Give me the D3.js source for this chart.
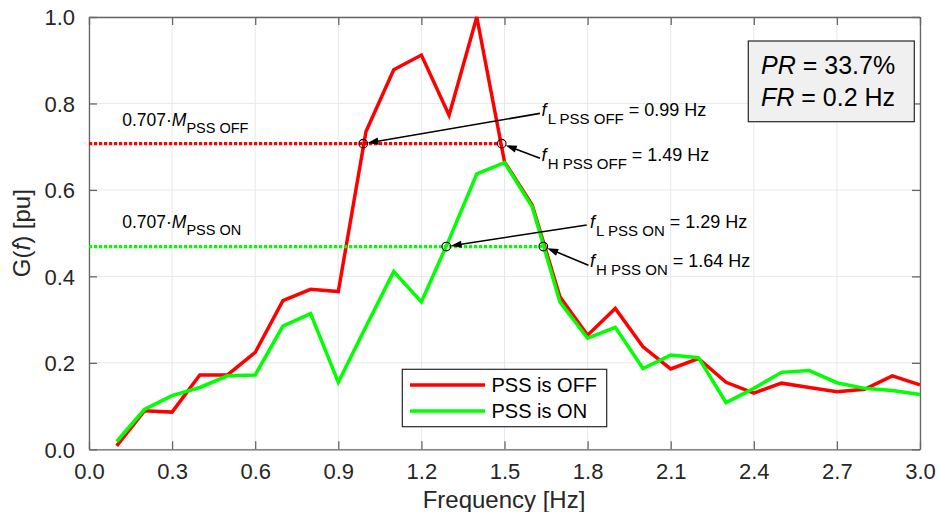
<!DOCTYPE html>
<html><head><meta charset="utf-8">
<script src="https://cdn.jsdelivr.net/npm/d3@7"></script>
<style>
body{margin:0;background:#fff;}
text{font-family:"Liberation Sans",Arial,sans-serif;}
</style></head>
<body><svg id="c" width="939" height="512"></svg>
<script>
const freq = [0.1,0.2,0.3,0.4,0.5,0.6,0.7,0.8,0.9,1.0,1.1,1.2,1.3,1.4,1.5,1.6,1.7,1.8,1.9,2.0,2.1,2.2,2.3,2.4,2.5,2.6,2.7,2.8,2.9,3.0];
const pssOff = [0.008,0.089,0.086,0.172,0.172,0.224,0.344,0.370,0.365,0.735,0.878,0.912,0.773,1.000,0.665,0.565,0.353,0.264,0.326,0.237,0.186,0.210,0.155,0.130,0.153,0.143,0.133,0.139,0.170,0.149];
const pssOn  = [0.018,0.092,0.124,0.143,0.170,0.172,0.285,0.314,0.155,0.284,0.411,0.341,0.485,0.637,0.663,0.561,0.341,0.257,0.282,0.187,0.218,0.212,0.108,0.141,0.178,0.182,0.154,0.141,0.136,0.127];
const xTicks = [0.0,0.3,0.6,0.9,1.2,1.5,1.8,2.1,2.4,2.7,3.0];
const yTicks = [0.0,0.2,0.4,0.6,0.8,1.0];
const seriesNames = ["PSS is OFF","PSS is ON"];
const seriesColors = ["#ff0000","#00ff00"];
const levelOff = 0.707, levelOn = 0.469;
const fLOff = 0.99, fHOff = 1.49, fLOn = 1.29, fHOn = 1.64;
const infoLines = [["PR"," = 33.7%"],["FR"," = 0.2 Hz"]];

const svg = d3.select("#c");
const L=89, R=920, T=17, B=449.3;
const x = d3.scaleLinear().domain([0,3]).range([L,R]);
const y = d3.scaleLinear().domain([0,1]).range([B,T]);
const axisCol = "#262626";

// grid
const g = svg.append("g");
g.selectAll(".gx").data(xTicks).join("line").attr("x1",d=>x(d)).attr("x2",d=>x(d)).attr("y1",T).attr("y2",B).attr("stroke","#e8e8e8").attr("stroke-width",1);
g.selectAll(".gy").data(yTicks).join("line").attr("y1",d=>y(d)).attr("y2",d=>y(d)).attr("x1",L).attr("x2",R).attr("stroke","#e8e8e8").attr("stroke-width",1);

// axes
const fmt = d3.format(".1f");
const ax = svg.append("g").attr("transform",`translate(0,${B})`).call(d3.axisBottom(x).tickValues(xTicks).tickFormat(fmt).tickSizeInner(-8).tickSizeOuter(0).tickPadding(14));
const axT = svg.append("g").attr("transform",`translate(0,${T})`).call(d3.axisTop(x).tickValues(xTicks).tickFormat("").tickSizeInner(-8).tickSizeOuter(0));
const ay = svg.append("g").attr("transform",`translate(${L},0)`).call(d3.axisLeft(y).tickValues(yTicks).tickFormat(fmt).tickSizeInner(-8).tickSizeOuter(0).tickPadding(14));
const ayR = svg.append("g").attr("transform",`translate(${R},0)`).call(d3.axisRight(y).tickValues(yTicks).tickFormat("").tickSizeInner(-8).tickSizeOuter(0));
[ax,axT,ay,ayR].forEach(a=>{
  a.selectAll("path").attr("stroke","#666").attr("stroke-width",1.3);
  a.selectAll("line").attr("stroke","#666").attr("stroke-width",1.3);
  a.selectAll("text").attr("fill",axisCol).style("font-size","22px").style("font-family","Liberation Sans, Arial, sans-serif");
});
ay.selectAll("text").attr("dy","0.36em");

svg.append("text").attr("x",(L+R)/2-0.5).attr("y",508).attr("text-anchor","middle").attr("fill",axisCol).style("font-size","24px").text("Frequency [Hz]");
const yl = svg.append("text").attr("transform",`translate(30,${(T+B)/2}) rotate(-90)`).attr("text-anchor","middle").attr("fill",axisCol).style("font-size","24px");
yl.append("tspan").text("G(");
yl.append("tspan").attr("font-style","italic").text("f");
yl.append("tspan").text(") [pu]");

// data lines
const line = d3.line().x(d=>x(d[0])).y(d=>y(d[1]));
[pssOff,pssOn].forEach((s,i)=>{
  svg.append("path").datum(freq.map((f,j)=>[f,s[j]])).attr("d",line).attr("fill","none").attr("stroke",seriesColors[i]).attr("stroke-width",3.5).attr("stroke-linejoin","miter");
});

// dashed levels
[[levelOff,fHOff,seriesColors[0]],[levelOn,fHOn,seriesColors[1]]].forEach(([lv,fx,c])=>{
  svg.append("line").attr("x1",x(0)).attr("x2",x(fx)).attr("y1",y(lv)).attr("y2",y(lv)).attr("stroke",c).attr("stroke-width",3.2).attr("stroke-dasharray","3.2 1.8");
});

// circles
const pts = [[fLOff,levelOff],[fHOff,levelOff],[fLOn,levelOn],[fHOn,levelOn]];
svg.selectAll(".pt").data(pts).join("circle").attr("cx",d=>x(d[0])).attr("cy",d=>y(d[1])).attr("r",4.3).attr("fill","none").attr("stroke","#000").attr("stroke-width",1.1);

// arrows: tail in data coords -> head at point
const arrows = [
  {tail:[1.628,0.777], head:pts[0], sub:"L PSS OFF", val:" = 0.99 Hz", t:[1.634,0.771]},
  {tail:[1.628,0.673], head:pts[1], sub:"H PSS OFF", val:" = 1.49 Hz", t:[1.634,0.667]},
  {tail:[1.797,0.519], head:pts[2], sub:"L PSS ON",  val:" = 1.29 Hz", t:[1.809,0.512]},
  {tail:[1.803,0.426], head:pts[3], sub:"H PSS ON",  val:" = 1.64 Hz", t:[1.809,0.422]}
];
arrows.forEach(a=>{
  const x0=x(a.tail[0]), y0=y(a.tail[1]), x1=x(a.head[0]), y1=y(a.head[1]);
  const dx=x1-x0, dy=y1-y0, len=Math.hypot(dx,dy), ux=dx/len, uy=dy/len;
  const tx=x1-ux*4.3, ty=y1-uy*4.3; // tip
  const hl=11, hw=3.6;
  const bx=tx-ux*hl, by=ty-uy*hl;
  svg.append("line").attr("x1",x0).attr("y1",y0).attr("x2",bx+ux*2).attr("y2",by+uy*2).attr("stroke","#000").attr("stroke-width",1.6);
  svg.append("path").attr("d",`M${tx},${ty}L${bx-uy*hw},${by+ux*hw}L${bx+uy*hw},${by-ux*hw}Z`).attr("fill","#000");
  const t = svg.append("text").attr("x",x(a.t[0])).attr("y",y(a.t[1])).attr("fill","#000").style("font-size","18px");
  t.append("tspan").attr("font-style","italic").text("f");
  t.append("tspan").attr("dx",1).attr("dy",8).style("font-size","15px").text(a.sub);
  t.append("tspan").attr("dy",-8).text(a.val);
});

// level labels
[["PSS OFF",[0.1,0.749]],["PSS ON",[0.1,0.511]]].forEach(([sub,p])=>{
  const t = svg.append("text").attr("x",x(p[0])+5.5).attr("y",y(p[1])).attr("fill","#000").style("font-size","17.5px");
  t.append("tspan").text("0.707\u00B7");
  t.append("tspan").attr("font-style","italic").text("M");
  t.append("tspan").attr("dy",7).style("font-size","14.5px").text(sub);
});

// info box
svg.append("rect").attr("x",748.3).attr("y",41).attr("width",166).attr("height",80.7).attr("fill","#f0f0f0").attr("stroke","#262626").attr("stroke-width",1.2);
infoLines.forEach((ln,i)=>{
  const t = svg.append("text").attr("x",761).attr("y",74+i*32).attr("fill","#000").style("font-size","25px");
  t.append("tspan").attr("font-style","italic").text(ln[0]);
  t.append("tspan").text(ln[1]);
});

// legend
const lg = svg.append("g");
lg.append("rect").attr("x",402.3).attr("y",369.3).attr("width",204.4).attr("height",57.4).attr("fill","#fff").attr("stroke","#262626").attr("stroke-width",1.2);
seriesNames.forEach((n,i)=>{
  const yy = 385+i*26;
  lg.append("line").attr("x1",410).attr("x2",485).attr("y1",yy).attr("y2",yy).attr("stroke",seriesColors[i]).attr("stroke-width",3.5);
  lg.append("text").attr("x",491.5).attr("y",yy+7).attr("fill","#000").style("font-size","20px").text(n);
});
</script></body></html>
